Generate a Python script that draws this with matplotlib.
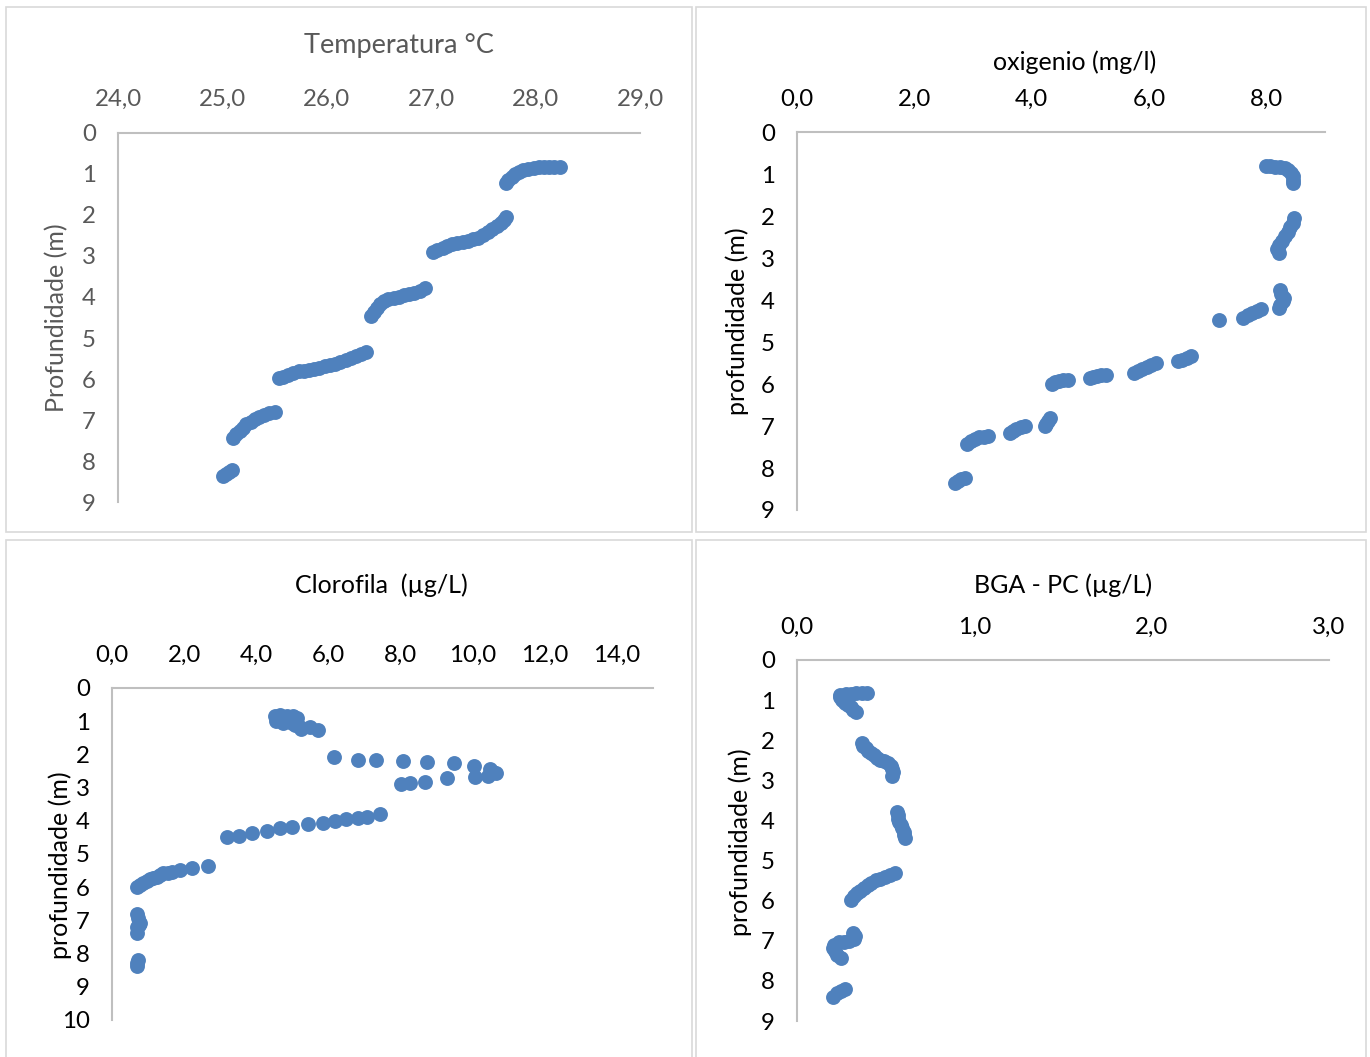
#perfis verticais: temperatura, oxigenio, clorofila e BGA-PC
import matplotlib.pyplot as plt
from matplotlib.patches import Rectangle

plt.rcParams['font.family'] = ['Lato', 'DejaVu Sans']

#----dados----#
#temperatura (C) x profundidade (m)
temp = [28.23, 28.18, 28.13, 28.08, 28.03, 27.98, 27.93, 27.88, 27.84, 27.80, 27.77, 27.74, 27.72,
        27.72, 27.70, 27.67, 27.63, 27.58, 27.54, 27.50, 27.45, 27.40, 27.35, 27.30, 27.25, 27.20, 27.15, 27.11, 27.06, 27.02,
        26.94, 26.89, 26.84, 26.79, 26.74, 26.69, 26.64, 26.59, 26.55, 26.51, 26.48, 26.45, 26.42,
        26.38, 26.33, 26.28, 26.23, 26.18, 26.13, 26.08, 26.03, 25.98, 25.93, 25.88, 25.83, 25.78, 25.73, 25.68, 25.63, 25.58, 25.54,
        25.50, 25.45, 25.40, 25.35, 25.31, 25.27, 25.23, 25.20, 25.17, 25.13, 25.10,
        25.09, 25.06, 25.03, 25.01]
prof_temp = [0.83, 0.83, 0.83, 0.84, 0.85, 0.86, 0.88, 0.91, 0.95, 1.02, 1.09, 1.16, 1.23,
             2.05, 2.12, 2.20, 2.27, 2.34, 2.42, 2.50, 2.57, 2.60, 2.64, 2.66, 2.69, 2.72, 2.76, 2.80, 2.85, 2.90,
             3.78, 3.85, 3.90, 3.93, 3.96, 3.99, 4.02, 4.05, 4.10, 4.17, 4.26, 4.36, 4.46,
             5.33, 5.38, 5.44, 5.49, 5.54, 5.58, 5.62, 5.66, 5.69, 5.72, 5.75, 5.77, 5.79, 5.80, 5.86, 5.90, 5.94, 5.98,
             6.79, 6.82, 6.86, 6.91, 6.97, 7.03, 7.10, 7.18, 7.26, 7.34, 7.42,
             8.21, 8.25, 8.31, 8.36]

#oxigenio (mg/l)
oxig = [7.99, 8.07, 8.15, 8.23, 8.31, 8.37, 8.42, 8.45, 8.46, 8.46,
        8.48, 8.45, 8.41, 8.37, 8.32, 8.27, 8.22, 8.19, 8.21,
        8.23, 8.25, 8.30, 8.29, 8.24, 8.21,
        7.91, 7.84, 7.76, 7.68, 7.60,
        7.20,
        6.72, 6.64, 6.56, 6.49,
        6.12, 6.04, 5.96, 5.88, 5.81, 5.75,
        5.27, 5.19, 5.12, 5.05, 4.99,
        4.62, 4.54, 4.46, 4.39, 4.34,
        4.32, 4.28, 4.25, 4.22,
        3.88, 3.81, 3.74, 3.68, 3.63,
        3.26, 3.18, 3.10, 3.03, 2.96, 2.89,
        2.86, 2.80, 2.74, 2.69]
prof_oxig = [0.80, 0.81, 0.82, 0.83, 0.86, 0.90, 0.96, 1.04, 1.13, 1.22,
             2.05, 2.15, 2.26, 2.37, 2.48, 2.58, 2.68, 2.78, 2.88,
             3.75, 3.85, 3.95, 4.03, 4.12, 4.19,
             4.21, 4.25, 4.30, 4.35, 4.43,
             4.47,
             5.34, 5.38, 5.43, 5.46,
             5.49, 5.54, 5.59, 5.64, 5.69, 5.74,
             5.78, 5.79, 5.81, 5.83, 5.86,
             5.90, 5.90, 5.92, 5.95, 5.99,
             6.81, 6.87, 6.94, 7.01,
             6.99, 7.03, 7.07, 7.12, 7.17,
             7.23, 7.25, 7.27, 7.31, 7.36, 7.42,
             8.24, 8.27, 8.31, 8.36]

#clorofila (ug/L)
clor = [4.52, 4.65, 4.84, 5.02, 5.12, 4.56, 4.65, 4.75, 4.88, 4.98, 5.07, 5.21, 5.25, 5.48, 5.71,
        6.15, 6.82, 7.31, 8.07, 8.72, 9.47, 10.03, 10.47, 10.56, 10.66,
        10.42, 10.06, 9.29, 8.67, 8.26, 8.00,
        7.42, 7.07, 6.82, 6.50, 6.18, 5.84, 5.44, 4.98, 4.65, 4.30, 3.87, 3.53, 3.18,
        2.67, 2.21, 1.88, 1.65, 1.56, 1.42, 1.33, 1.24, 1.15, 1.05, 0.96, 0.87, 0.78, 0.70,
        0.68, 0.73, 0.78, 0.76, 0.70, 0.68,
        0.73, 0.70, 0.70]
prof_clor = [0.84, 0.81, 0.84, 0.84, 0.91, 0.98, 0.96, 1.06, 0.98, 1.06, 1.11, 1.18, 1.24, 1.18, 1.27,
             2.07, 2.17, 2.17, 2.19, 2.22, 2.27, 2.35, 2.45, 2.52, 2.57,
             2.65, 2.69, 2.72, 2.82, 2.85, 2.90,
             3.80, 3.89, 3.92, 3.95, 4.00, 4.06, 4.10, 4.18, 4.23, 4.30, 4.38, 4.45, 4.50,
             5.35, 5.43, 5.48, 5.53, 5.56, 5.58, 5.63, 5.68, 5.71, 5.76, 5.81, 5.86, 5.93, 6.00,
             6.81, 6.94, 7.07, 7.14, 7.21, 7.39,
             8.19, 8.27, 8.37]

#BGA - PC (ug/L)
bga = [0.393, 0.365, 0.335, 0.305, 0.275, 0.245, 0.240, 0.252, 0.268, 0.285, 0.302, 0.318, 0.333,
       0.365, 0.375, 0.387, 0.400, 0.415, 0.432, 0.450, 0.470, 0.492, 0.512, 0.530, 0.538, 0.539, 0.536,
       0.566, 0.568, 0.572, 0.578, 0.586, 0.594, 0.601, 0.606, 0.609,
       0.553, 0.525, 0.497, 0.470, 0.443, 0.418, 0.398, 0.378, 0.358, 0.338, 0.320, 0.305,
       0.318, 0.325, 0.320, 0.295, 0.265, 0.238, 0.210, 0.205, 0.212, 0.228, 0.246,
       0.271, 0.250, 0.228, 0.205]
prof_bga = [0.83, 0.82, 0.83, 0.84, 0.85, 0.87, 0.93, 1.00, 1.06, 1.12, 1.18, 1.24, 1.29,
            2.08, 2.14, 2.20, 2.26, 2.32, 2.38, 2.44, 2.49, 2.53, 2.58, 2.65, 2.72, 2.80, 2.89,
            3.78, 3.87, 3.96, 4.04, 4.12, 4.20, 4.28, 4.37, 4.45,
            5.32, 5.37, 5.41, 5.45, 5.49, 5.55, 5.62, 5.69, 5.75, 5.81, 5.89, 5.98,
            6.80, 6.88, 6.96, 7.01, 7.02, 7.04, 7.10, 7.17, 7.26, 7.35, 7.44,
            8.21, 8.25, 8.31, 8.39]

#ticks
ticks_temp = [24, 25, 26, 27, 28, 29]
labels_temp = ['24,0', '25,0', '26,0', '27,0', '28,0', '29,0']
ticks_oxig = [0, 2, 4, 6, 8]
labels_oxig = ['0,0', '2,0', '4,0', '6,0', '8,0']
ticks_clor = [0, 2, 4, 6, 8, 10, 12, 14]
labels_clor = ['0,0', '2,0', '4,0', '6,0', '8,0', '10,0', '12,0', '14,0']
ticks_bga = [0, 1, 2, 3]
labels_bga = ['0,0', '1,0', '2,0', '3,0']

cor = '#4F81BD'
cinza = '#595959'

fig = plt.figure(figsize=(13.7, 10.57), dpi=100)
W, H = 1370.0, 1057.0

#molduras dos quatro graficos
for (x0, y0, x1, y1) in [(6, 7, 692, 532), (696, 7, 1366, 532), (6, 540, 692, 1062), (696, 540, 1366, 1062)]:
    fig.patches.append(Rectangle((x0 / W, 1 - y1 / H), (x1 - x0) / W, (y1 - y0) / H,
                                 transform=fig.transFigure, fill=False, ec='#d9d9d9', lw=1.2))


def painel(box, x, y, xlim, ylim, xt, xl, txt_cor):
    #box em pixels: esquerda, topo, direita, base
    l, t, r, b = box
    ax = fig.add_axes([l / W, 1 - b / H, (r - l) / W, (b - t) / H])
    ax.scatter(x, y, s=115, c=cor, linewidths=0, zorder=3)
    ax.set_xlim(xlim)
    ax.set_ylim(ylim, 0)
    ax.xaxis.tick_top()
    ax.set_xticks(xt)
    ax.set_xticklabels(xl)
    ax.set_yticks(range(0, ylim + 1))
    ax.tick_params(length=0, labelsize=17.3, colors=txt_cor)
    ax.tick_params(axis='x', pad=16)
    ax.tick_params(axis='y', pad=16)
    for s in ['right', 'bottom']:
        ax.spines[s].set_visible(False)
    for s in ['top', 'left']:
        ax.spines[s].set_color('#bfbfbf')
        ax.spines[s].set_linewidth(1.5)
    return ax


painel((118, 132.5, 640, 502.5), temp, prof_temp, (24, 29), 9, ticks_temp, labels_temp, cinza)
painel((797, 132.3, 1325, 510), oxig, prof_oxig, (0, 9), 9, ticks_oxig, labels_oxig, 'black')
painel((112, 688, 653, 1020), clor, prof_clor, (0, 15), 10, ticks_clor, labels_clor, 'black')
painel((797, 660, 1329, 1021), bga, prof_bga, (0, 3), 9, ticks_bga, labels_bga, 'black')

#titulos
fig.text(399 / W, 1 - 45 / H, 'Temperatura °C', ha='center', va='center', fontsize=19.5, color=cinza)
fig.text(1075 / W, 1 - 62 / H, 'oxigenio (mg/l)', ha='center', va='center', fontsize=18)
fig.text(381 / W, 1 - 585 / H, 'Clorofila  (µg/L)', ha='center', va='center', fontsize=18)
fig.text(1063 / W, 1 - 585 / H, 'BGA - PC (µg/L)', ha='center', va='center', fontsize=18)

#eixos y
fig.text(57 / W, 1 - 318 / H, 'Profundidade (m)', ha='center', va='center', rotation=90, fontsize=18, color=cinza)
fig.text(737 / W, 1 - 321 / H, 'profundidade (m)', ha='center', va='center', rotation=90, fontsize=18)
fig.text(60 / W, 1 - 865 / H, 'profundidade (m)', ha='center', va='center', rotation=90, fontsize=18)
fig.text(740 / W, 1 - 842 / H, 'profundidade (m)', ha='center', va='center', rotation=90, fontsize=18)

plt.savefig('out.png', dpi=100)
